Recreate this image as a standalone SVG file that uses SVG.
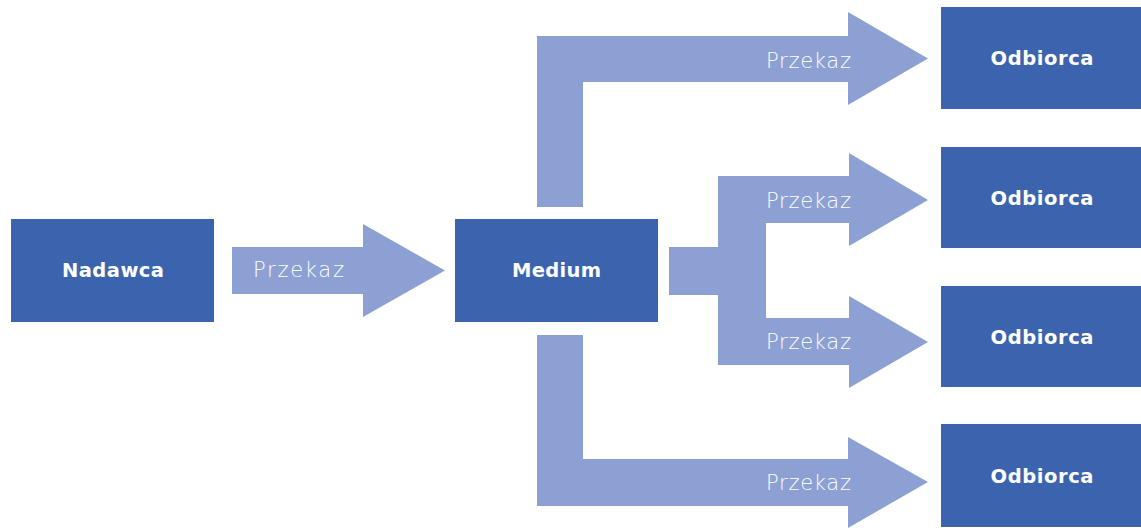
<svg xmlns="http://www.w3.org/2000/svg" width="1141" height="530" viewBox="0 0 1141 530">
  <style>
    .box { fill: #3c63ae; }
    .arrow { fill: #8ca0d3; }
    .name { font-family: "DejaVu Sans", "Open Sans", sans-serif; font-weight: 700; font-size: 19.5px; fill: #ffffff; text-anchor: middle; }
    .lbl { font-family: "DejaVu Sans", "Open Sans", sans-serif; font-weight: 200; font-size: 21px; fill: #ffffff; }
  </style>
  <rect width="1141" height="530" fill="#ffffff"/>

  <g id="connectors">
    <!-- Nadawca to Medium -->
    <path class="arrow" d="M232,247 L363,247 L363,224 L445,270.5 L363,317 L363,294 L232,294 Z"/>
    <!-- Medium up and over to first Odbiorca -->
    <path class="arrow" d="M537,207 L537,36 L848,36 L848,12 L928,58.5 L848,105 L848,82 L583,82 L583,207 Z"/>
    <!-- Medium right, forking to second and third Odbiorca -->
    <path class="arrow" d="M669,247 L718,247 L718,176 L849,176 L849,153 L928,200 L849,246 L849,223 L766,223 L766,318 L849,318 L849,296 L928,342 L849,388 L849,365 L718,365 L718,295 L669,295 Z"/>
    <!-- Medium down and over to fourth Odbiorca -->
    <path class="arrow" d="M537,335 L583,335 L583,459 L848,459 L848,437 L928,482 L848,528 L848,506 L537,506 Z"/>
    <text class="lbl" x="253" y="277" textLength="91" lengthAdjust="spacing">Przekaz</text>
    <text class="lbl" x="766" y="68" textLength="85" lengthAdjust="spacing">Przekaz</text>
    <text class="lbl" x="766" y="208" textLength="85" lengthAdjust="spacing">Przekaz</text>
    <text class="lbl" x="766" y="349" textLength="85" lengthAdjust="spacing">Przekaz</text>
    <text class="lbl" x="766" y="490" textLength="85" lengthAdjust="spacing">Przekaz</text>
  </g>

  <g id="nadawca">
    <rect class="box" x="11" y="219" width="203" height="103"/>
    <text class="name" x="113" y="277" textLength="102" lengthAdjust="spacing">Nadawca</text>
  </g>
  <g id="medium">
    <rect class="box" x="455" y="219" width="203" height="103"/>
    <text class="name" x="556.5" y="277" textLength="89" lengthAdjust="spacing">Medium</text>
  </g>
  <g id="odbiorca-1">
    <rect class="box" x="941" y="7" width="203" height="102"/>
    <text class="name" x="1042" y="65" textLength="103" lengthAdjust="spacing">Odbiorca</text>
  </g>
  <g id="odbiorca-2">
    <rect class="box" x="941" y="147" width="203" height="101"/>
    <text class="name" x="1042" y="205" textLength="103" lengthAdjust="spacing">Odbiorca</text>
  </g>
  <g id="odbiorca-3">
    <rect class="box" x="941" y="286" width="203" height="101"/>
    <text class="name" x="1042" y="344" textLength="103" lengthAdjust="spacing">Odbiorca</text>
  </g>
  <g id="odbiorca-4">
    <rect class="box" x="941" y="424" width="203" height="103"/>
    <text class="name" x="1042" y="483" textLength="103" lengthAdjust="spacing">Odbiorca</text>
  </g>
</svg>
